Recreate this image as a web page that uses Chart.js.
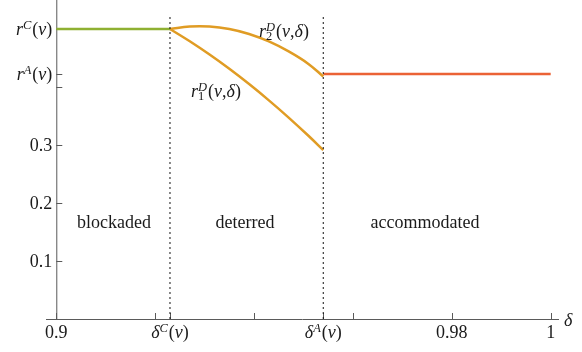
<!DOCTYPE html>
<html lang="en">
<head>
<meta charset="UTF-8">
<title>Limit pricing regions</title>
<style>
  body { margin: 0; background: #fff; }
  canvas { display: block; }
</style>
<script src="https://cdn.jsdelivr.net/npm/chart.js@4"></script>
</head>
<body>
<canvas id="chart" width="582" height="352"></canvas>
<script>
    // key values on the axes
    const deltaC = 0.923;
    const deltaA = 0.954;
    const rC = 0.5;
    const rA = 0.4224;

    // deterred region curves, sampled along delta
    const deterDelta = [0.923, 0.927, 0.931, 0.935, 0.939, 0.943, 0.947, 0.951, 0.954];
    const r1D = [0.5, 0.4788, 0.4559, 0.4313, 0.4050, 0.3770, 0.3473, 0.3159, 0.2911];
    const r2D = [0.5, 0.5043, 0.5043, 0.5000, 0.4914, 0.4785, 0.4613, 0.4398, 0.4180];

    // flat parts
    const blockDelta = [0.9, deltaC];
    const blockR = [rC, rC];
    const accDelta = [deltaA, 1.0];
    const accR = [rA, rA];

    // ticks
    const xTicks = [0.9, 0.92, deltaC, 0.94, deltaA, 0.96, 0.98, 1.0];
    const xTickLabels = ['0.9', '', 'dC', '', 'dA', '', '0.98', '1'];
    const yTicks = [0.1, 0.2, 0.3, 0.4, rA, rC];
    const yTickLabels = ['0.1', '0.2', '0.3', '', 'rA', 'rC'];

    const regionNames = ['blockaded', 'deterred', 'accommodated'];

    const toXY = (xs, ys) => xs.map((x, i) => ({x: x, y: ys[i]}));

    const BASE = 18, SMALL = 12.5;
    function font(size, it) {
        return (it ? 'italic ' : '') + size + 'px "Liberation Serif", "Times New Roman", serif';
    }
    function tokWidth(ctx, k) {
        if (k.t) { ctx.font = font(BASE, k.i); return ctx.measureText(k.t).width; }
        let w = 0;
        if (k.sup) { ctx.font = font(SMALL, true); w = Math.max(w, ctx.measureText(k.sup).width); }
        if (k.sub) { ctx.font = font(SMALL, false); w = Math.max(w, ctx.measureText(k.sub).width); }
        return w + 1;
    }
    // draw a label with super/subscripts, y is the baseline
    function drawRich(ctx, toks, x, y, align) {
        const total = toks.reduce((s, k) => s + tokWidth(ctx, k), 0);
        let cx = align === 'right' ? x - total : align === 'center' ? x - total / 2 : x;
        ctx.textAlign = 'left';
        ctx.textBaseline = 'alphabetic';
        toks.forEach(k => {
            const w = tokWidth(ctx, k);
            if (k.t) {
                ctx.font = font(BASE, k.i);
                ctx.fillText(k.t, cx, y);
            } else {
                if (k.sup) { ctx.font = font(SMALL, true); ctx.fillText(k.sup, cx, y - 6); }
                if (k.sub) { ctx.font = font(SMALL, false); ctx.fillText(k.sub, cx, y + 3); }
            }
            cx += w;
        });
    }
    const rich = {
        rC: [{t: 'r', i: true}, {sup: 'C'}, {t: '('}, {t: 'v', i: true}, {t: ')'}],
        rA: [{t: 'r', i: true}, {sup: 'A'}, {t: '('}, {t: 'v', i: true}, {t: ')'}],
        dC: [{t: 'δ', i: true}, {sup: 'C'}, {t: '('}, {t: 'v', i: true}, {t: ')'}],
        dA: [{t: 'δ', i: true}, {sup: 'A'}, {t: '('}, {t: 'v', i: true}, {t: ')'}],
        r1: [{t: 'r', i: true}, {sup: 'D', sub: '1'}, {t: '('}, {t: 'v', i: true}, {t: ','}, {t: 'δ', i: true}, {t: ')'}],
        r2: [{t: 'r', i: true}, {sup: 'D', sub: '2'}, {t: '('}, {t: 'v', i: true}, {t: ','}, {t: 'δ', i: true}, {t: ')'}]
    };
    function drawLabel(ctx, lab, x, y, align) {
        if (rich[lab]) drawRich(ctx, rich[lab], x, y, align);
        else { ctx.font = font(BASE, false); ctx.textAlign = align; ctx.textBaseline = 'alphabetic'; ctx.fillText(lab, x, y); }
    }

    // axes drawn Mathematica style: crossing at (0.9, 0), ticks pointing inward
    const axesPlugin = {
        id: 'axes',
        beforeDatasetsDraw(chart) {
            const ctx = chart.ctx, xs = chart.scales.x, ys = chart.scales.y;
            const ca = chart.chartArea;
            const x0 = xs.getPixelForValue(0.9), y0 = ys.getPixelForValue(0);
            ctx.save();
            ctx.strokeStyle = '#5a5a5a';
            ctx.lineWidth = 1;
            ctx.beginPath();
            ctx.moveTo(ca.left, y0 + 0.5); ctx.lineTo(ca.right, y0 + 0.5);
            ctx.moveTo(x0 + 0.5, ca.top); ctx.lineTo(x0 + 0.5, y0);
            xTicks.forEach(v => {
                const px = Math.round(xs.getPixelForValue(v)) + 0.5;
                ctx.moveTo(px, y0); ctx.lineTo(px, y0 - 6);
            });
            yTicks.forEach(v => {
                const py = Math.round(ys.getPixelForValue(v)) + 0.5;
                ctx.moveTo(x0, py); ctx.lineTo(x0 + 6, py);
            });
            ctx.stroke();
            ctx.fillStyle = '#1a1a1a';
            xTicks.forEach((v, i) => {
                if (xTickLabels[i]) drawLabel(ctx, xTickLabels[i], xs.getPixelForValue(v), y0 + 19, 'center');
            });
            yTicks.forEach((v, i) => {
                if (yTickLabels[i]) drawLabel(ctx, yTickLabels[i], x0 - 4, ys.getPixelForValue(v) + 6, 'right');
            });
            ctx.font = font(BASE, true);
            ctx.textAlign = 'left';
            ctx.fillText('δ', ca.right + 5, y0 + 7);
            ctx.restore();
        },
        afterDraw(chart) {
            const ctx = chart.ctx;
            ctx.save();
            ctx.fillStyle = '#1a1a1a';
            const regionX = [114, 245, 425];
            regionNames.forEach((n, i) => {
                ctx.font = font(BASE, false);
                ctx.textAlign = 'center';
                ctx.fillText(n, regionX[i], 228);
            });
            drawLabel(ctx, 'r2', 259, 37, 'left');
            drawLabel(ctx, 'r1', 191, 97, 'left');
            ctx.restore();
        }
    };

    const dotted = {borderColor: '#111', borderWidth: 1, borderDash: [2, 3], pointRadius: 0, fill: false};
    const curve = {borderWidth: 2.5, pointRadius: 0, tension: 0.4};

    new Chart(document.getElementById('chart'), {
        type: 'line',
        data: {
            datasets: [
                Object.assign({data: toXY([deltaC, deltaC], [0, 0.5207])}, dotted),
                Object.assign({data: toXY([deltaA, deltaA], [0, 0.5207])}, dotted),
                {data: toXY(blockDelta, blockR), borderColor: '#8fb032', borderWidth: 2.5, pointRadius: 0},
                Object.assign({data: toXY(deterDelta, r1D), borderColor: '#e09c24'}, curve),
                Object.assign({data: toXY(deterDelta, r2D), borderColor: '#e09c24'}, curve),
                {data: toXY(accDelta, accR), borderColor: '#eb6235', borderWidth: 2.5, pointRadius: 0}
            ]
        },
        options: {
            responsive: false,
            devicePixelRatio: 1,
            animation: false,
            layout: {padding: {left: 46, right: 23, top: 0, bottom: 33}},
            plugins: {legend: {display: false}, tooltip: {enabled: false}},
            scales: {
                x: {type: 'linear', display: false, min: 0.89792, max: 1.00168},
                y: {display: false, min: 0, max: 0.55}
            }
        },
        plugins: [axesPlugin]
    });
</script>
</body>
</html>
